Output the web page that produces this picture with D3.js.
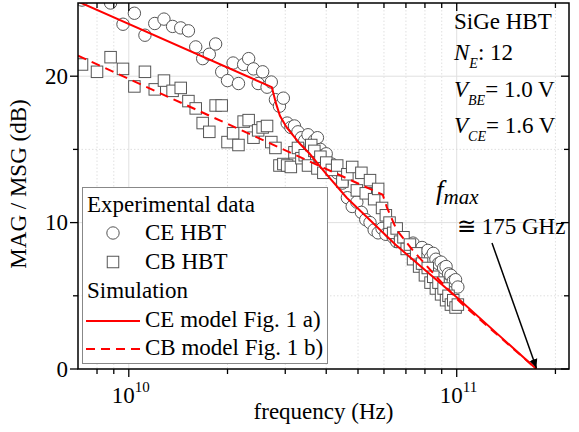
<!DOCTYPE html>
<html><head><meta charset="utf-8">
<script src="https://cdn.jsdelivr.net/npm/d3@7"></script>
<style>
body{margin:0;background:#fff}
svg{display:block}
text{font-family:"Liberation Serif","Times New Roman",serif;fill:#000}
</style>
</head><body>
<svg id="c" width="579" height="432"></svg>
<script>
// ---- data ----
const freqGHz = [7.2,8.0,8.8,9.6,10.4,11.2,12.0,12.8,13.6,14.4,15.2,16.0,16.8,17.6,18.4,19.2,20.0,20.8,21.6,22.4,
  23.2,24.0,24.8,25.6,26.4,27.2,28.0,28.8,29.6,30.4,31.2,32.0,32.8,33.6,34.4,35.2,36.0,36.8,37.6,38.4,39.2,40.0,
  41.6,43.2,44.8,46.4,48.0,49.6,51.2,52.8,54.4,56.0,57.6,59.2,60.8,62.4,64.0,65.6,67.2,68.8,70.4,72.0,73.6,75.2,
  76.8,78.4,80.0,81.6,83.2,84.8,86.4,88.0,89.6,91.2,92.8,94.4,96.0,97.6,99.2,100.8];
const ceHBT = [25.2,25.8,25.0,23.55,24.3,22.8,23.6,23.9,23.4,23.3,23.1,22.0,21.2,21.5,22.2,20.3,19.7,20.9,19.5,20.8,
  21.2,20.5,19.5,20.3,19.25,19.6,18.4,17.95,18.5,16.8,16.5,16.6,16.2,15.8,15.6,16.0,15.3,15.6,15.8,15.0,14.6,14.7,
  14.0,13.4,12.7,11.7,11.1,11.4,10.7,10.2,10.0,9.5,9.3,9.6,9.2,9.4,9.0,8.7,9.0,8.6,8.5,8.2,8.6,8.0,
  7.8,8.3,7.9,8.1,7.6,7.9,7.5,7.2,7.3,6.9,7.0,6.5,6.4,6.0,6.1,5.6];
const cbHBT = [20.8,20.3,21.3,20.5,19.3,20.3,19.1,19.7,19.0,19.2,18.3,17.8,16.8,16.2,18.0,18.0,15.5,16.1,15.3,16.9,
  17.0,15.8,16.3,16.5,16.6,15.5,15.1,13.9,14.0,13.9,13.8,14.8,15.1,14.4,14.6,13.9,15.3,14.9,13.7,14.5,13.4,14.1,
  13.6,13.9,12.8,13.3,13.8,12.2,13.4,12.0,12.9,11.6,12.3,11.0,10.5,10.0,9.3,9.6,8.7,9.0,8.2,8.5,7.5,7.9,
  7.0,7.2,6.4,6.9,5.9,6.3,5.5,5.9,5.1,5.5,4.7,5.0,4.4,4.7,4.2,4.4];
const ceModelGHz = [7.0,27.3,28.1,28.9,30.3,33.2,35.6,40.1,46.2,65.0,100.0,175.0];
const ceModelDB  = [25.1,19.25,18.16,17.3,16.5,15.4,14.7,13.3,11.7,8.5,4.9,0];
const cbModelGHz = [7.0,59.5,61.2,65.6,73.4,86.9,102.0,175.0];
const cbModelDB  = [21.4,11.9,11.06,9.49,8.12,6.28,4.6,0];
const xMajorTicks = [1e10,1e11];
const xMinorTicks = [8e9,9e9,2e10,3e10,4e10,5e10,6e10,7e10,8e10,9e10,2e11];
const yMajorTicks = [0,10,20];
const yMinorTicks = [5,15];
const legendItems = ["Experimental data","CE HBT","CB HBT","Simulation","CE model Fig. 1 a)","CB model Fig. 1 b)"];

// ---- layout ----
const L=78,R=569,T=3,B=369;
const x=d3.scaleLog().domain([7e9,2.2e11]).range([L,R]);
const y=d3.scaleLinear().domain([0,25]).range([B,T]);
const svg=d3.select("#c");
const FS=23;

svg.append("defs").append("clipPath").attr("id","clip").append("rect")
  .attr("x",L).attr("y",T).attr("width",R-L).attr("height",B-T);
const defs=svg.select("defs");
defs.append("marker").attr("id","arr").attr("viewBox","0 0 10 10").attr("refX",10).attr("refY",5)
  .attr("markerWidth",9).attr("markerHeight",9).attr("orient","auto").attr("markerUnits","userSpaceOnUse")
  .append("path").attr("d","M0,0.5 L10,5 L0,9.5 Z").attr("fill","#000");

// grid
const g=svg.append("g");
g.selectAll(".vmin").data(xMinorTicks).join("line")
  .attr("x1",d=>x(d)).attr("x2",d=>x(d)).attr("y1",T).attr("y2",B)
  .attr("stroke","#d8d8d8").attr("stroke-width",0.8).attr("stroke-dasharray","1.5,2");
g.selectAll(".vmaj").data(xMajorTicks).join("line")
  .attr("x1",d=>x(d)).attr("x2",d=>x(d)).attr("y1",T).attr("y2",B)
  .attr("stroke","#e0e0e0").attr("stroke-width",1);
g.selectAll(".hmin").data(yMinorTicks).join("line")
  .attr("x1",L).attr("x2",R).attr("y1",d=>y(d)).attr("y2",d=>y(d))
  .attr("stroke","#d8d8d8").attr("stroke-width",0.8).attr("stroke-dasharray","1.5,2");
g.selectAll(".hmaj").data(yMajorTicks.filter(d=>d>0)).join("line")
  .attr("x1",L).attr("x2",R).attr("y1",d=>y(d)).attr("y2",d=>y(d))
  .attr("stroke","#e0e0e0").attr("stroke-width",1);

// data
const pg=svg.append("g").attr("clip-path","url(#clip)");
const pts=freqGHz.map((f,i)=>({f:f*1e9,ce:ceHBT[i],cb:cbHBT[i]}));
pg.selectAll("circle.ce").data(pts).join("circle")
  .attr("cx",d=>x(d.f)).attr("cy",d=>y(d.ce)).attr("r",6.2)
  .attr("fill","#fff").attr("stroke","#555").attr("stroke-width",1);
const s=11.5;
pg.selectAll("rect.cb").data(pts).join("rect")
  .attr("x",d=>x(d.f)-s/2).attr("y",d=>y(d.cb)-s/2).attr("width",s).attr("height",s)
  .attr("fill","#fff").attr("stroke","#555").attr("stroke-width",1);

const line=d3.line().x(d=>x(d[0]*1e9)).y(d=>y(d[1]));
pg.append("path").datum(cbModelGHz.map((f,i)=>[f,cbModelDB[i]]))
  .attr("d",line).attr("fill","none").attr("stroke","#ff0000").attr("stroke-width",2).attr("stroke-dasharray","9,6");
pg.append("path").datum(ceModelGHz.map((f,i)=>[f,ceModelDB[i]]))
  .attr("d",line).attr("fill","none").attr("stroke","#ff0000").attr("stroke-width",2);

// frame & ticks
svg.append("rect").attr("x",L).attr("y",T).attr("width",R-L).attr("height",B-T)
  .attr("fill","none").attr("stroke","#000").attr("stroke-width",1.5);
const tk=svg.append("g").attr("stroke","#000").attr("stroke-width",1.3);
xMajorTicks.forEach(d=>{
  tk.append("line").attr("x1",x(d)).attr("x2",x(d)).attr("y1",B).attr("y2",B+8);
  tk.append("line").attr("x1",x(d)).attr("x2",x(d)).attr("y1",T).attr("y2",T+8);
});
xMinorTicks.forEach(d=>{
  tk.append("line").attr("x1",x(d)).attr("x2",x(d)).attr("y1",B).attr("y2",B+5);
  tk.append("line").attr("x1",x(d)).attr("x2",x(d)).attr("y1",T).attr("y2",T+5);
});
yMajorTicks.forEach(d=>{
  tk.append("line").attr("x1",L-8).attr("x2",L).attr("y1",y(d)).attr("y2",y(d));
  tk.append("line").attr("x1",R-8).attr("x2",R).attr("y1",y(d)).attr("y2",y(d));
});
yMinorTicks.forEach(d=>{
  tk.append("line").attr("x1",L-5).attr("x2",L).attr("y1",y(d)).attr("y2",y(d));
  tk.append("line").attr("x1",R-5).attr("x2",R).attr("y1",y(d)).attr("y2",y(d));
});

// tick labels
yMajorTicks.forEach(d=>{
  svg.append("text").attr("x",L-10).attr("y",y(d)+7.5).attr("text-anchor","end")
    .attr("font-size",FS).text(d);
});
xMajorTicks.forEach(d=>{
  const e=Math.round(Math.log10(d));
  const t=svg.append("text").attr("x",x(d)-17).attr("y",403).attr("font-size",FS);
  t.append("tspan").text("10");
  t.append("tspan").attr("dy",-11).attr("font-size",15).text(e);
});

// axis titles
svg.append("text").attr("x",(L+R)/2).attr("y",419).attr("text-anchor","middle")
  .attr("font-size",FS).text("frequency (Hz)");
svg.append("text").attr("transform","translate(26,184) rotate(-90)").attr("text-anchor","middle")
  .attr("font-size",FS).text("MAG / MSG (dB)");

// legend
const lg=svg.append("g");
lg.append("rect").attr("x",82.5).attr("y",187.5).attr("width",245).attr("height",176)
  .attr("fill","#fff").attr("stroke","#888").attr("stroke-width",1);
const rows=[212,240,269,298,327,355];
lg.append("text").attr("x",87).attr("y",rows[0]).attr("font-size",FS).text(legendItems[0]);
lg.append("circle").attr("cx",113).attr("cy",rows[1]-7).attr("r",6.2).attr("fill","#fff").attr("stroke","#555");
lg.append("text").attr("x",145).attr("y",rows[1]).attr("font-size",FS).text(legendItems[1]);
lg.append("rect").attr("x",113-s/2).attr("y",rows[2]-7-s/2).attr("width",s).attr("height",s).attr("fill","#fff").attr("stroke","#555");
lg.append("text").attr("x",145).attr("y",rows[2]).attr("font-size",FS).text(legendItems[2]);
lg.append("text").attr("x",87).attr("y",rows[3]).attr("font-size",FS).text(legendItems[3]);
lg.append("line").attr("x1",86).attr("x2",140).attr("y1",rows[4]-6).attr("y2",rows[4]-6).attr("stroke","#ff0000").attr("stroke-width",2);
lg.append("text").attr("x",145).attr("y",rows[4]).attr("font-size",FS).text(legendItems[4]);
lg.append("line").attr("x1",86).attr("x2",140).attr("y1",rows[5]-6).attr("y2",rows[5]-6).attr("stroke","#ff0000").attr("stroke-width",2).attr("stroke-dasharray","9,6");
lg.append("text").attr("x",145).attr("y",rows[5]).attr("font-size",FS).text(legendItems[5]);

// annotations
const an=svg.append("g");
an.append("text").attr("x",454).attr("y",29).attr("font-size",FS).text("SiGe HBT");
function subLine(yb,main,sub,rest){
  const t=an.append("text").attr("x",454).attr("y",yb).attr("font-size",FS);
  t.append("tspan").attr("font-style","italic").text(main);
  t.append("tspan").attr("font-style","italic").attr("font-size",14).attr("dy",8).text(sub);
  t.append("tspan").attr("dy",-8).text(rest);
}
subLine(60,"N","E",": 12");
subLine(97,"V","BE","= 1.0 V");
subLine(133,"V","CE","= 1.6 V");
const fm=an.append("text").attr("x",436).attr("y",199).attr("font-size",27);
fm.append("tspan").attr("font-style","italic").text("f");
fm.append("tspan").attr("font-style","italic").attr("font-size",21).attr("dy",5).text("max");
an.append("text").attr("x",457).attr("y",234).attr("font-size",FS).text("\u2245 175 GHz");
an.append("line").attr("x1",492).attr("y1",243).attr("x2",x(175e9)).attr("y2",y(0)-1)
  .attr("stroke","#000").attr("stroke-width",1.5).attr("marker-end","url(#arr)");
</script>
</body></html>
